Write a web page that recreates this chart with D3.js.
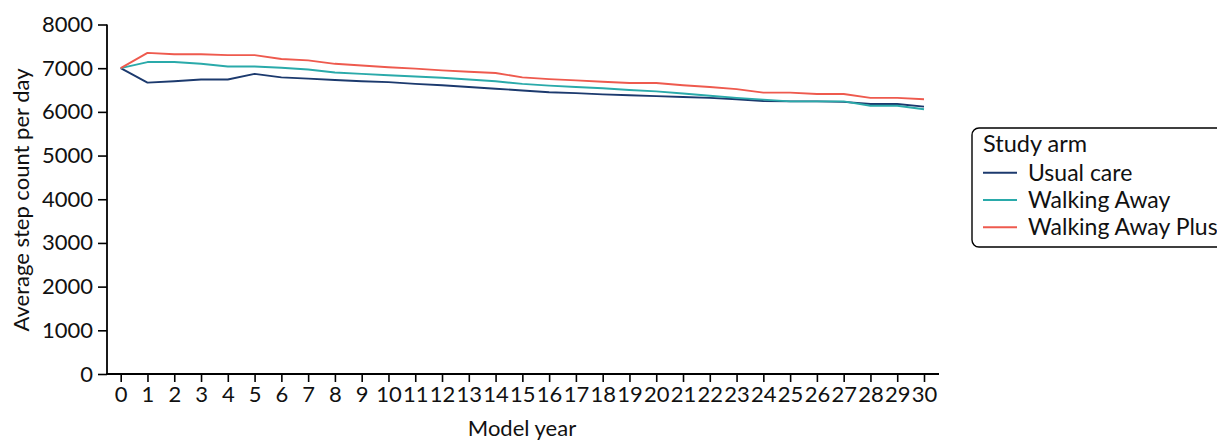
<!DOCTYPE html>
<html>
<head>
<meta charset="utf-8">
<script src="https://cdn.jsdelivr.net/npm/d3@7"></script>
<style>
  html, body { margin: 0; padding: 0; background: #fff; }
  svg { display: block; font-family: Lato, "Open Sans", sans-serif; }
</style>
</head>
<body>
<svg id="chart" width="1217" height="441"></svg>
<script>
const years = d3.range(0, 31);
const yTicks = [0, 1000, 2000, 3000, 4000, 5000, 6000, 7000, 8000];
const seriesNames = ["Usual care", "Walking Away", "Walking Away Plus"];
const usualCare = [7000, 6670, 6700, 6740, 6740, 6870, 6790, 6760, 6730, 6700, 6680, 6640, 6610, 6570, 6530, 6490, 6450, 6430, 6400, 6380, 6360, 6340, 6320, 6290, 6250, 6240, 6240, 6230, 6180, 6180, 6120];
const walkingAway = [7000, 7140, 7140, 7100, 7040, 7040, 7010, 6970, 6900, 6870, 6840, 6810, 6780, 6740, 6700, 6640, 6600, 6570, 6540, 6500, 6470, 6420, 6370, 6320, 6280, 6240, 6240, 6240, 6140, 6140, 6060];
const walkingAwayPlus = [7000, 7350, 7320, 7320, 7300, 7300, 7210, 7180, 7100, 7060, 7020, 6990, 6950, 6920, 6890, 6790, 6750, 6720, 6690, 6660, 6660, 6610, 6570, 6520, 6440, 6440, 6410, 6410, 6320, 6320, 6290];
const colors = ["#1c3a6e", "#2aaaaa", "#ee5a4e"];

const seriesValues = [usualCare, walkingAway, walkingAwayPlus];

const svg = d3.select("#chart");
const x = d3.scaleLinear().domain([0, 30]).range([120.7, 924]);
const y = d3.scaleLinear().domain([0, 8000]).range([374, 24.5]);
const fs = 22;

const yAxis = svg.append("g").attr("transform", "translate(107,0)")
  .call(d3.axisLeft(y).tickValues(yTicks).tickSize(9).tickPadding(5).tickFormat(d3.format("d")));
const xAxis = svg.append("g").attr("transform", "translate(0,374)")
  .call(d3.axisBottom(x).tickValues(years).tickSize(8).tickPadding(4).tickFormat(d3.format("d")));

[yAxis, xAxis].forEach(g => {
  g.select(".domain").remove();
  g.selectAll(".tick line").attr("stroke", "#000").attr("stroke-width", 1.6);
  g.selectAll(".tick text").attr("fill", "#111").style("font-size", fs + "px").style("font-family", "Lato, sans-serif");
});
svg.append("line").attr("x1", 107).attr("x2", 107).attr("y1", 24.5).attr("y2", 374.8)
  .attr("stroke", "#000").attr("stroke-width", 1.8);
svg.append("line").attr("x1", 106.2).attr("x2", 939).attr("y1", 374).attr("y2", 374)
  .attr("stroke", "#000").attr("stroke-width", 1.8);

const line = d3.line().x((d, i) => x(years[i])).y(d => y(d));
seriesValues.forEach((vals, k) => {
  svg.append("path").datum(vals).attr("d", line)
    .attr("fill", "none").attr("stroke", colors[k]).attr("stroke-width", 1.9)
    .attr("stroke-linejoin", "round");
});

svg.append("text").attr("x", 522).attr("y", 436).attr("text-anchor", "middle")
  .style("font-size", fs + "px").attr("fill", "#111").text("Model year");
svg.append("text").attr("transform", "translate(29,200) rotate(-90)").attr("text-anchor", "middle")
  .style("font-size", fs + "px").attr("fill", "#111").text("Average step count per day");

const lg = svg.append("g");
lg.append("rect").attr("x", 972).attr("y", 128).attr("width", 260).attr("height", 119)
  .attr("rx", 7).attr("fill", "#fff").attr("stroke", "#000").attr("stroke-width", 1.4);
lg.append("text").attr("x", 983).attr("y", 152).style("font-size", "23.5px").attr("fill", "#111").text("Study arm");
seriesNames.forEach((name, k) => {
  const cy = 172.7 + k * 27.3;
  lg.append("line").attr("x1", 983).attr("x2", 1017).attr("y1", cy).attr("y2", cy)
    .attr("stroke", colors[k]).attr("stroke-width", 1.9);
  lg.append("text").attr("x", 1028).attr("y", cy).attr("dy", "0.35em")
    .style("font-size", "23px").attr("fill", "#111").text(name);
});
</script>
</body>
</html>
